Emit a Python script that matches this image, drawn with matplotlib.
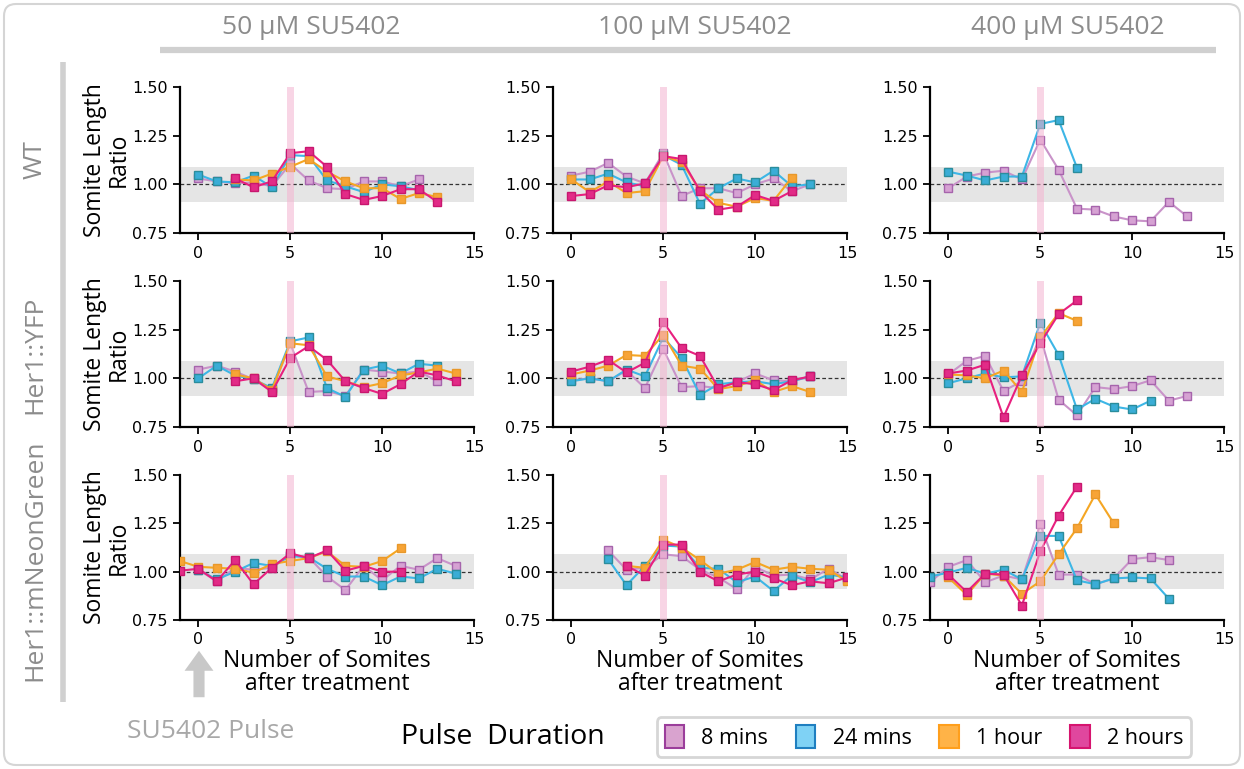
import matplotlib as mpl
import matplotlib.pyplot as plt
import numpy as np
from matplotlib.patches import Patch, FancyBboxPatch, FancyArrowPatch
from matplotlib.lines import Line2D
from matplotlib.transforms import IdentityTransform

W, H = 1244, 769

durations = ['8 mins', '24 mins', '1 hour', '2 hours']
concentrations = ['50 μM SU5402', '100 μM SU5402', '400 μM SU5402']
strains = ['WT', 'Her1::YFP', 'Her1::mNeonGreen']

# each series: (first somite index, ratios)
wt_50 = {
    '8 mins': (0, [1.03, 1.015, 1.005, 1.01, 0.99, 1.105, 1.02, 0.98, 0.975, 1.015, 1.015, 0.99, 1.025]),
    '24 mins': (0, [1.05, 1.015, 1.01, 1.045, 0.985, 1.15, 1.145, 1.02, 0.99, 0.96, 1.0, 0.99, 0.97]),
    '1 hour': (2, [1.025, 1.02, 1.055, 1.09, 1.13, 1.065, 1.015, 0.98, 0.98, 0.925, 0.955, 0.935]),
    '2 hours': (2, [1.03, 0.985, 1.015, 1.16, 1.17, 1.09, 0.95, 0.92, 0.94, 0.975, 0.975, 0.91]),
}
wt_100 = {
    '8 mins': (0, [1.045, 1.065, 1.11, 1.04, 1.005, 1.16, 0.94, 0.98, 0.98, 0.955, 1.0, 1.03, 0.965, 1.0]),
    '24 mins': (0, [1.025, 1.025, 1.055, 1.01, 0.99, 1.15, 1.10, 0.90, 0.98, 1.03, 1.01, 1.07, 0.99, 1.0]),
    '1 hour': (0, [1.025, 0.96, 1.015, 0.955, 0.965, 1.145, 1.115, 0.97, 0.905, 0.885, 0.93, 0.915, 1.035]),
    '2 hours': (0, [0.94, 0.95, 0.995, 0.985, 1.005, 1.145, 1.13, 0.965, 0.87, 0.885, 0.945, 0.915, 0.965]),
}
wt_400 = {
    '8 mins': (0, [0.98, 1.04, 1.06, 1.07, 1.025, 1.23, 1.075, 0.875, 0.87, 0.835, 0.815, 0.81, 0.91, 0.835]),
    '24 mins': (0, [1.065, 1.045, 1.02, 1.04, 1.04, 1.31, 1.33, 1.085]),
}
yfp_50 = {
    '8 mins': (0, [1.045, 1.065, 1.035, 0.995, 0.935, 1.18, 0.93, 0.935, 0.91, 1.045, 1.035, 1.025, 1.035, 0.985]),
    '24 mins': (0, [1.0, 1.065, 1.015, 0.995, 0.95, 1.19, 1.21, 0.95, 0.905, 1.045, 1.065, 1.025, 1.075, 1.065]),
    '1 hour': (2, [1.02, 1.0, 0.94, 1.18, 1.17, 1.01, 0.985, 0.955, 0.975, 1.015, 1.03, 1.05, 1.025]),
    '2 hours': (2, [0.985, 1.0, 0.93, 1.105, 1.165, 1.095, 0.985, 0.95, 0.92, 0.97, 1.035, 1.015, 0.985]),
}
yfp_100 = {
    '8 mins': (0, [0.99, 1.0, 0.985, 1.04, 0.95, 1.15, 0.955, 0.96, 0.95, 0.98, 1.025, 0.99, 0.985, 1.01]),
    '24 mins': (0, [0.985, 1.0, 0.985, 1.045, 1.01, 1.21, 1.105, 0.915, 0.97, 0.98, 0.985, 0.97, 0.985, 1.01]),
    '1 hour': (0, [1.02, 1.04, 1.065, 1.12, 1.115, 1.225, 1.065, 1.05, 0.945, 0.96, 0.99, 0.93, 0.96, 0.93]),
    '2 hours': (0, [1.035, 1.06, 1.095, 1.03, 1.08, 1.29, 1.155, 1.115, 0.95, 0.98, 0.97, 0.94, 0.99, 1.01]),
}
yfp_400 = {
    '8 mins': (0, [1.02, 1.09, 1.115, 0.935, 0.985, 1.215, 0.89, 0.81, 0.955, 0.945, 0.96, 0.99, 0.885, 0.91]),
    '24 mins': (0, [0.975, 1.0, 1.025, 1.005, 1.01, 1.285, 1.12, 0.84, 0.895, 0.855, 0.84, 0.885]),
    '1 hour': (0, [1.02, 1.015, 1.0, 1.04, 0.93, 1.21, 1.335, 1.295]),
    '2 hours': (0, [1.025, 1.04, 1.07, 0.80, 1.015, 1.18, 1.33, 1.40]),
}
neon_50 = {
    '8 mins': (0, [1.01, 0.95, 1.02, 1.01, 1.02, 1.085, 1.075, 0.975, 0.905, 1.03, 0.955, 1.03, 1.01, 1.07, 1.03]),
    '24 mins': (0, [1.01, 0.96, 1.0, 1.045, 1.03, 1.08, 1.075, 1.015, 0.975, 0.975, 0.93, 0.975, 0.965, 1.015, 0.99]),
    '1 hour': (-1, [1.055, 1.025, 1.02, 1.015, 0.995, 1.04, 1.055, 1.07, 1.105, 1.03, 1.025, 1.055, 1.12]),
    '2 hours': (-1, [1.005, 1.015, 0.95, 1.06, 0.935, 1.02, 1.095, 1.07, 1.11, 1.005, 1.03, 1.0, 1.0]),
}
neon_100 = {
    '8 mins': (2, [1.11, 1.01, 1.02, 1.09, 1.08, 1.01, 0.97, 0.91, 1.025, 0.98, 0.985, 0.96, 1.015, 0.96]),
    '24 mins': (2, [1.065, 0.93, 1.03, 1.135, 1.13, 1.02, 1.015, 0.945, 0.975, 0.9, 0.98, 0.945, 0.985, 0.97]),
    '1 hour': (3, [1.03, 1.02, 1.165, 1.125, 1.06, 0.99, 1.01, 1.05, 1.01, 1.025, 1.015, 1.01, 0.95]),
    '2 hours': (3, [1.03, 0.98, 1.14, 1.14, 1.0, 0.95, 0.985, 1.0, 0.965, 0.93, 0.95, 0.94, 0.97]),
}
neon_400 = {
    '8 mins': (-1, [0.945, 1.025, 1.06, 0.945, 0.98, 0.96, 1.245, 0.985, 0.985, 0.935, 0.965, 1.065, 1.075, 1.06]),
    '24 mins': (-1, [0.975, 0.995, 1.02, 0.99, 1.01, 0.96, 1.185, 1.185, 0.955, 0.935, 0.965, 0.97, 0.965, 0.86]),
    '1 hour': (0, [0.97, 0.88, 0.99, 0.98, 0.885, 0.95, 1.09, 1.225, 1.40, 1.25]),
    '2 hours': (0, [0.985, 0.895, 0.99, 0.985, 0.825, 1.105, 1.29, 1.44]),
}

panels = [[wt_50, wt_100, wt_400],
          [yfp_50, yfp_100, yfp_400],
          [neon_50, neon_100, neon_400]]

line_colors = {'8 mins': '#c993c9', '24 mins': '#3db6e6', '1 hour': '#f5a623', '2 hours': '#e8207f'}
face_colors = {'8 mins': '#d6a2d3', '24 mins': '#3aadd6', '1 hour': '#f7a436', '2 hours': '#e22b87'}
edge_colors = {'8 mins': '#a664ac', '24 mins': '#2a8d9c', '1 hour': '#e8982a', '2 hours': '#c8176f'}
legend_face = {'8 mins': '#d9a3cf', '24 mins': '#7fd2f5', '1 hour': '#ffb347', '2 hours': '#e0479e'}
legend_edge = {'8 mins': '#9b3e9b', '24 mins': '#1f7fc0', '1 hour': '#ff9f1c', '2 hours': '#d6146f'}

plain = ['Open Sans', 'DejaVu Sans']

fig = plt.figure(figsize=(W / 100, H / 100), dpi=100)

lefts = [180, 553, 930]
tops = [87, 281, 475]
bottoms = [233, 427, 620]
aw = 294

for r in range(3):
    for c in range(3):
        ax = fig.add_axes([lefts[c] / W, 1 - bottoms[r] / H, aw / W, (bottoms[r] - tops[r]) / H])
        ax.axhspan(0.91, 1.09, color='#e5e5e5', zorder=0, lw=0)
        ax.axhline(1.0, color='#333333', ls='--', lw=0.9, dashes=(3, 2), zorder=1)
        for d in durations:
            if d not in panels[r][c]:
                continue
            start, vals = panels[r][c][d]
            xs = start + np.arange(len(vals))
            ax.plot(xs, vals, color=line_colors[d], lw=1.5, marker='s', ms=6,
                    mfc=face_colors[d], mec=edge_colors[d], mew=1.0, zorder=3)
        ax.axvspan(4.8, 5.2, color='#f4b3d0', alpha=0.55, lw=0, zorder=5)
        ax.set_xlim(-1, 15)
        ax.set_ylim(0.75, 1.5)
        ax.set_xticks([0, 5, 10, 15])
        ax.set_yticks([0.75, 1.0, 1.25, 1.5])
        ax.yaxis.set_major_formatter(mpl.ticker.FormatStrFormatter('%.2f'))
        for s in ['top', 'right']:
            ax.spines[s].set_visible(False)
        for s in ['left', 'bottom']:
            ax.spines[s].set_linewidth(1.6)
        ax.tick_params(labelsize=11.5, length=5, width=1.3, pad=4)
        if c == 0:
            ax.set_ylabel('Somite Length\nRatio', fontsize=16.5, family=plain,
                          linespacing=0.95, labelpad=1)
        if r == 2:
            ax.set_xlabel('Number of Somites\nafter treatment', fontsize=16.5, family=plain,
                          linespacing=0.95, labelpad=1)

# column headers and row labels
head_x = [311, 695, 1068]
for x, t in zip(head_x, concentrations):
    fig.text(x / W, 1 - 27 / H, t, ha='center', va='center', fontsize=19,
             color='#8c8c8c', family=plain)
row_y = [160, 355, 560]
for y, t in zip(row_y, strains):
    fig.text(35 / W, 1 - y / H, t, ha='center', va='center', rotation=90,
             fontsize=19, color='#8c8c8c', family=plain)

# grey guide lines and outer frame
fig.add_artist(Line2D([160, 1216], [H - 50, H - 50], transform=IdentityTransform(),
                      color='#d0d0d0', lw=4.5, solid_capstyle='butt'))
fig.add_artist(Line2D([63, 63], [H - 62, H - 702], transform=IdentityTransform(),
                      color='#d0d0d0', lw=4, solid_capstyle='butt'))
fig.add_artist(FancyBboxPatch((4, 4), W - 8, H - 8, boxstyle='round,pad=0,rounding_size=12',
                              transform=IdentityTransform(), fill=False,
                              ec='#d5d5d5', lw=1.5))

# pulse arrow
fig.add_artist(FancyArrowPatch((199, H - 700), (199, H - 648), transform=IdentityTransform(),
                               arrowstyle='simple,head_width=1.3,head_length=0.9,tail_width=0.5',
                               mutation_scale=16, color='#c8c8c8', lw=0))
fig.text(211 / W, 1 - 731 / H, 'SU5402 Pulse', ha='center', va='center', fontsize=19,
         color='#a8a8a8', family=plain)

fig.text(503 / W, 1 - 737 / H, 'Pulse  Duration', ha='center', va='center', fontsize=20.5,
         color='black', family=plain)

handles = [Patch(facecolor=legend_face[d], edgecolor=legend_edge[d], lw=1.5) for d in durations]
leg = fig.legend(handles, durations, loc='center', bbox_to_anchor=(924 / W, 1 - 737 / H),
                 ncol=4, frameon=True, fancybox=True, edgecolor='#cccccc',
                 handlelength=0.9, handleheight=1.3, columnspacing=1.3, handletextpad=0.8,
                 borderpad=0.35, prop={'family': plain, 'size': 15.5})
leg.get_frame().set_linewidth(2)

fig.savefig('out.png', dpi=100)
